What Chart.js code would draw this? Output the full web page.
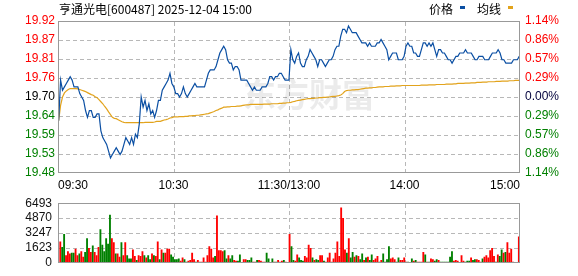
<!DOCTYPE html>
<html>
<head>
<meta charset="utf-8">
<script src="https://cdn.jsdelivr.net/npm/chart.js@4.4.1/dist/chart.umd.min.js"></script>
<style>
  html, body { margin: 0; padding: 0; background: #fff; }
  #wrap { position: relative; width: 578px; height: 276px; overflow: hidden; }
  #priceChart { position: absolute; left: 0; top: 0; }
  #volChart { position: absolute; left: 0; top: 190px; }
</style>
</head>
<body>
<div id="wrap">
  <canvas id="priceChart" width="578" height="190"></canvas>
  <canvas id="volChart" width="578" height="86"></canvas>
</div>
<script>
// ---------- data ----------
const TITLE = "亨通光电[600487] 2025-12-04 15:00";
const WATERMARK = "东方财富";
const PRE_CLOSE = 19.70;
const PCT_RANGE = 1.14;
const TIME_LABELS = ["09:30", "10:30", "11:30/13:00", "14:00", "15:00"];
const SERIES_NAMES = ["价格", "均线"];

// one value per minute, 09:30 .. 11:30 and 13:01 .. 15:00 (241 points)
const PRICES = [
  19.63, 19.75, 19.72, 19.73, 19.74, 19.75, 19.76, 19.75, 19.73, 19.73,
  19.73, 19.71, 19.70, 19.69, 19.66, 19.64, 19.66, 19.66, 19.64, 19.64,
  19.65, 19.65, 19.60, 19.58, 19.57, 19.56, 19.54, 19.52, 19.53, 19.54,
  19.55, 19.54, 19.53, 19.54, 19.56, 19.58, 19.57, 19.56, 19.58, 19.56,
  19.59, 19.58, 19.62, 19.70, 19.67, 19.69, 19.66, 19.68, 19.65, 19.66,
  19.64, 19.66, 19.69, 19.69, 19.72, 19.73, 19.74, 19.75, 19.77, 19.74,
  19.73, 19.71, 19.71, 19.70, 19.71, 19.73, 19.71, 19.70, 19.71, 19.72,
  19.73, 19.74, 19.73, 19.73, 19.73, 19.73, 19.73, 19.75, 19.77, 19.78,
  19.78, 19.78, 19.79, 19.81, 19.83, 19.84, 19.85, 19.84, 19.81, 19.80,
  19.80, 19.78, 19.79, 19.79, 19.78, 19.75, 19.75, 19.75, 19.75, 19.74,
  19.73, 19.72, 19.73, 19.72, 19.72, 19.72, 19.73, 19.73, 19.73, 19.74,
  19.76, 19.76, 19.75, 19.76, 19.76, 19.77, 19.77, 19.76, 19.75, 19.75,
  19.75, 19.84, 19.81, 19.80, 19.82, 19.83, 19.80, 19.79, 19.79, 19.81,
  19.82, 19.84, 19.83, 19.82, 19.81, 19.79, 19.81, 19.81, 19.80, 19.79,
  19.80, 19.81, 19.81, 19.82, 19.84, 19.85, 19.85, 19.88, 19.90, 19.90,
  19.89, 19.91, 19.90, 19.89, 19.89, 19.89, 19.88, 19.87, 19.86, 19.86,
  19.86, 19.85, 19.86, 19.85, 19.85, 19.85, 19.86, 19.86, 19.87, 19.86,
  19.85, 19.84, 19.81, 19.82, 19.83, 19.83, 19.83, 19.81, 19.81, 19.81,
  19.82, 19.85, 19.86, 19.85, 19.85, 19.83, 19.83, 19.82, 19.82, 19.84,
  19.86, 19.86, 19.85, 19.86, 19.85, 19.86, 19.84, 19.82, 19.84, 19.84,
  19.83, 19.83, 19.82, 19.81, 19.81, 19.80, 19.81, 19.82, 19.82, 19.83,
  19.83, 19.83, 19.84, 19.83, 19.83, 19.83, 19.82, 19.81, 19.81, 19.82,
  19.82, 19.82, 19.81, 19.81, 19.81, 19.82, 19.83, 19.83, 19.83, 19.84,
  19.83, 19.81, 19.81, 19.80, 19.80, 19.80, 19.80, 19.81, 19.81, 19.81,
  19.82
];

const AVG_PRICES = [
  19.630, 19.675, 19.700, 19.712, 19.718, 19.722, 19.725, 19.725, 19.725, 19.725,
  19.724, 19.722, 19.720, 19.718, 19.716, 19.713, 19.710, 19.707, 19.705, 19.701,
  19.698, 19.692, 19.686, 19.680, 19.672, 19.665, 19.656, 19.648, 19.640, 19.637,
  19.636, 19.633, 19.630, 19.627, 19.625, 19.624, 19.624, 19.624, 19.624, 19.624,
  19.624, 19.624, 19.624, 19.624, 19.624, 19.625, 19.625, 19.625, 19.625, 19.625,
  19.626, 19.628, 19.628, 19.628, 19.630, 19.632, 19.633, 19.635, 19.638, 19.639,
  19.641, 19.641, 19.641, 19.642, 19.642, 19.642, 19.643, 19.643, 19.644, 19.644,
  19.645, 19.645, 19.646, 19.646, 19.647, 19.648, 19.649, 19.650, 19.651, 19.653,
  19.655, 19.657, 19.660, 19.662, 19.665, 19.667, 19.670, 19.670, 19.671, 19.671,
  19.672, 19.672, 19.672, 19.673, 19.673, 19.674, 19.675, 19.676, 19.677, 19.677,
  19.678, 19.678, 19.678, 19.678, 19.678, 19.678, 19.678, 19.679, 19.679, 19.679,
  19.679, 19.680, 19.680, 19.680, 19.680, 19.681, 19.681, 19.682, 19.682, 19.683,
  19.683, 19.684, 19.686, 19.687, 19.689, 19.690, 19.691, 19.692, 19.693, 19.694,
  19.695, 19.695, 19.696, 19.696, 19.697, 19.697, 19.698, 19.698, 19.699, 19.699,
  19.700, 19.700, 19.701, 19.702, 19.702, 19.703, 19.704, 19.706, 19.710, 19.716,
  19.719, 19.720, 19.720, 19.721, 19.721, 19.722, 19.722, 19.723, 19.724, 19.725,
  19.726, 19.726, 19.727, 19.727, 19.728, 19.728, 19.729, 19.730, 19.730, 19.730,
  19.731, 19.731, 19.731, 19.732, 19.732, 19.732, 19.733, 19.733, 19.733, 19.734,
  19.734, 19.734, 19.734, 19.734, 19.734, 19.734, 19.734, 19.734, 19.734, 19.735,
  19.735, 19.735, 19.735, 19.736, 19.736, 19.736, 19.736, 19.737, 19.737, 19.737,
  19.737, 19.737, 19.738, 19.738, 19.738, 19.738, 19.739, 19.739, 19.740, 19.740,
  19.740, 19.740, 19.741, 19.741, 19.741, 19.742, 19.742, 19.742, 19.743, 19.743,
  19.743, 19.744, 19.744, 19.744, 19.745, 19.745, 19.745, 19.745, 19.746, 19.746,
  19.746, 19.747, 19.747, 19.747, 19.747, 19.748, 19.748, 19.748, 19.749, 19.749,
  19.749
];

const VOLUMES = [
  2290, 1675, 3090, 795, 1235, 970, 1060, 1060, 1500, 795,
  970, 1235, 620, 1150, 2650, 1590, 1150, 1850, 1150, 795,
  1675, 3620, 1940, 1235, 2650, 2030, 5200, 2650, 2200, 970,
  970, 620, 2200, 795, 2200, 795, 440, 440, 1410, 705,
  265, 795, 705, 1235, 795, 530, 795, 350, 970, 795,
  705, 2290, 350, 1410, 1060, 1060, 1500, 1500, 880, 620,
  350, 350, 440, 175, 530, 350, 90, 175, 265, 1060,
  350, 90, 265, 90, 90, 530, 90, 795, 1760, 1500,
  530, 705, 5115, 1320, 1320, 1235, 1320, 440, 795, 440,
  795, 265, 175, 175, 880, 60, 350, 350, 265, 265,
  530, 90, 90, 265, 265, 175, 90, 90, 1060, 440,
  60, 440, 90, 90, 265, 90, 175, 265, 90, 60,
  3090, 1760, 265, 175, 880, 530, 265, 175, 705, 530,
  1940, 1590, 530, 265, 350, 265, 795, 795, 175, 90,
  530, 1060, 90, 440, 1060, 2290, 705, 6000, 4850, 1410,
  1060, 2650, 530, 1150, 620, 795, 705, 350, 970, 265,
  530, 620, 265, 880, 265, 440, 705, 90, 265, 970,
  90, 350, 1760, 440, 530, 350, 90, 530, 265, 265,
  530, 90, 90, 60, 440, 175, 265, 90, 90, 90,
  1150, 880, 90, 90, 440, 350, 175, 350, 265, 90,
  90, 90, 90, 90, 620, 1235, 175, 265, 175, 60,
  795, 175, 90, 175, 175, 530, 265, 350, 350, 265,
  90, 440, 620, 795, 530, 1320, 1590, 705, 90, 880,
  705, 1410, 1060, 1150, 2200, 1060, 1500, 90, 60, 60,
  2820
];

// 1 = traded up (red), 0 = traded down (green)
const VOL_UP = [
  1, 0, 0, 1, 1, 1, 0, 0, 1, 1,
  0, 1, 1, 0, 0, 1, 1, 0, 1, 1,
  1, 0, 0, 0, 0, 0, 0, 1, 1, 0,
  1, 1, 0, 1, 1, 0, 0, 0, 1, 1,
  0, 1, 1, 1, 0, 1, 0, 0, 1, 0,
  1, 1, 0, 1, 0, 1, 1, 1, 0, 0,
  0, 0, 0, 1, 1, 0, 0, 1, 1, 1,
  1, 0, 1, 1, 1, 1, 1, 1, 1, 1,
  1, 0, 1, 1, 1, 1, 0, 0, 1, 0,
  0, 1, 1, 0, 0, 0, 1, 1, 0, 0,
  0, 1, 1, 0, 1, 1, 1, 1, 0, 0,
  1, 0, 1, 0, 1, 1, 1, 0, 1, 1,
  1, 0, 0, 1, 1, 0, 0, 0, 1, 1,
  1, 1, 0, 1, 0, 0, 1, 1, 0, 1,
  1, 1, 1, 1, 1, 1, 1, 1, 1, 1,
  0, 1, 0, 0, 1, 0, 1, 0, 0, 1,
  0, 1, 0, 0, 1, 1, 1, 0, 1, 0,
  0, 0, 0, 1, 1, 1, 0, 0, 1, 1,
  1, 1, 0, 0, 0, 1, 0, 1, 1, 1,
  1, 0, 1, 0, 1, 1, 0, 0, 1, 0,
  0, 0, 0, 0, 0, 0, 1, 1, 1, 1,
  1, 1, 0, 0, 0, 1, 0, 0, 1, 1,
  1, 0, 1, 1, 1, 1, 1, 1, 0, 1,
  0, 0, 1, 0, 1, 1, 1, 1, 1, 1,
  1
];

const VOL_TICKS = [0, 1623, 3247, 4870, 6493];

// ---------- styling ----------
const COLORS = {
  price: "#0b4fa3",
  avg: "#e2a31c",
  up: "#ff0000",
  down: "#008000",
  flat: "#000000",
  grid: "#b8b8b8",
  frame: "#999999"
};
const TICK_FONT = { family: "'Liberation Sans', Arial, sans-serif", size: 12 };
Chart.defaults.font.family = TICK_FONT.family;

const yMin = PRE_CLOSE * (1 - PCT_RANGE / 100);
const yMax = PRE_CLOSE * (1 + PCT_RANGE / 100);

function sideColor(v, flat) {
  const d = v - PRE_CLOSE;
  if (Math.abs(d) < 1e-4) return flat;
  return d > 0 ? COLORS.up : COLORS.down;
}

function quarterTicks(s) {
  s.ticks = [0, 1, 2, 3, 4].map((k) => ({ value: s.min + (s.max - s.min) * k / 4 }));
}

function priceTicks(s) {
  s.ticks = [];
  for (let k = 0; k <= 8; k++) s.ticks.push({ value: yMin + (yMax - yMin) * k / 8 });
}

// ---------- plugins ----------
// dashed grid under the data (plot area split evenly, like the tick layout)
const DASH = 4, GAP = 3;
const dashGrid = {
  id: "dashGrid",
  beforeDatasetsDraw(chart, args, opts) {
    const { ctx, chartArea: a } = chart;
    const L = Math.round(a.left), R = Math.round(a.right);
    const T = Math.round(a.top), B = Math.round(a.bottom);
    const cols = opts.cols || 4;
    const rows = opts.rows || 4;
    ctx.save();
    ctx.fillStyle = COLORS.grid;
    for (let k = 1; k < cols; k++) {
      const px = Math.round(L + (R - L) * k / cols);
      for (let y = T + 1; y < B - 1; y += DASH + GAP) {
        ctx.fillRect(px, y, 1, Math.min(DASH, B - 1 - y));
      }
    }
    for (let k = 1; k < rows; k++) {
      const py = Math.round(T + (B - T) * k / rows);
      for (let x = L + 1; x < R - 1; x += DASH + GAP) {
        ctx.fillRect(x, py, Math.min(DASH, R - 1 - x), 1);
      }
    }
    ctx.restore();
  }
};

// solid frame round the plot area, over the data
const frame = {
  id: "frame",
  afterDatasetsDraw(chart) {
    const { ctx, chartArea: a } = chart;
    const L = Math.round(a.left), R = Math.round(a.right);
    const T = Math.round(a.top), B = Math.round(a.bottom);
    ctx.save();
    ctx.fillStyle = COLORS.frame;
    ctx.fillRect(L, T, R - L, 1);
    ctx.fillRect(L, B - 1, R - L, 1);
    ctx.fillRect(L, T, 1, B - T);
    ctx.fillRect(R - 1, T, 1, B - T);
    ctx.restore();
  }
};

const watermark = {
  id: "watermark",
  beforeDatasetsDraw(chart) {
    const { ctx, chartArea: a } = chart;
    ctx.save();
    ctx.font = "bold 33px 'Noto Sans CJK SC'";
    ctx.fillStyle = "rgba(0,0,0,0.08)";
    ctx.textAlign = "center";
    ctx.textBaseline = "middle";
    ctx.fillText(WATERMARK, (a.left + a.right) / 2 + 20, (a.top + a.bottom) / 2 - 3);
    ctx.restore();
  }
};

const header = {
  id: "header",
  afterDraw(chart) {
    const { ctx, chartArea: a } = chart;
    ctx.save();
    ctx.font = "12px 'Noto Sans CJK SC'";
    ctx.textBaseline = "middle";
    ctx.fillStyle = "#000";
    ctx.textAlign = "left";
    ctx.fillText(TITLE, a.left + 1, 9.5);

    // legend: text first, small colour bar after it, laid out from the right
    const ds = chart.data.datasets;
    let x = a.right - 7;
    for (let k = ds.length - 1; k >= 0; k--) {
      ctx.fillStyle = ds[k].borderColor;
      ctx.fillRect(x - 5, 6, 5, 3);
      x -= 12;
      ctx.fillStyle = "#000";
      ctx.textAlign = "right";
      ctx.fillText(ds[k].label, x, 9.5);
      x -= ctx.measureText(ds[k].label).width + 12;
    }
    ctx.restore();
  }
};

const noGrid = { display: false, drawTicks: false };
const noBorder = { display: false };

// ---------- price chart ----------
new Chart(document.getElementById("priceChart"), {
  type: "line",
  data: {
    datasets: [
      {
        label: SERIES_NAMES[0],
        data: PRICES.map((p, i) => ({ x: i, y: p })),
        borderColor: COLORS.price,
        borderWidth: 1.2,
        pointRadius: 0,
        tension: 0,
        yAxisID: "y"
      },
      {
        label: SERIES_NAMES[1],
        data: AVG_PRICES.map((p, i) => ({ x: i, y: p })),
        borderColor: COLORS.avg,
        borderWidth: 1.2,
        pointRadius: 0,
        tension: 0,
        yAxisID: "y"
      }
    ]
  },
  options: {
    responsive: false,
    animation: false,
    events: [],
    layout: { padding: { top: 21 } },
    plugins: {
      legend: { display: false },
      tooltip: { enabled: false },
      dashGrid: { cols: 4, rows: 8 }
    },
    scales: {
      x: {
        type: "linear",
        min: -0.35,
        max: 240.4,
        bounds: "data",
        offset: false,
        afterBuildTicks: quarterTicks,
        afterFit: (s) => { s.height = 17; },
        ticks: {
          callback: (v, i) => TIME_LABELS[i],
          align: "inner",
          maxRotation: 0,
          autoSkip: false,
          padding: 5,
          color: "#000",
          font: TICK_FONT
        },
        grid: noGrid,
        border: noBorder
      },
      y: {
        position: "left",
        min: yMin,
        max: yMax,
        bounds: "data",
        afterBuildTicks: priceTicks,
        afterFit: (s) => { s.width = 58; },
        ticks: {
          callback: (v) => v.toFixed(2),
          autoSkip: false,
          padding: 3,
          color: (c) => sideColor(c.tick.value, COLORS.flat),
          font: TICK_FONT
        },
        grid: noGrid,
        border: noBorder
      },
      y1: {
        position: "right",
        min: yMin,
        max: yMax,
        bounds: "data",
        afterBuildTicks: priceTicks,
        afterFit: (s) => { s.width = 58; },
        ticks: {
          callback: (v) => (Math.abs(v / PRE_CLOSE - 1) * 100 + 1e-9).toFixed(2) + "%",
          autoSkip: false,
          padding: 5,
          color: (c) => sideColor(c.tick.value, "#00003c"),
          font: TICK_FONT
        },
        grid: noGrid,
        border: noBorder
      }
    }
  },
  plugins: [dashGrid, watermark, frame, header]
});

// ---------- volume chart ----------
new Chart(document.getElementById("volChart"), {
  type: "bar",
  data: {
    datasets: [{
      data: VOLUMES.map((v, i) => ({ x: i, y: v })),
      backgroundColor: VOL_UP.map((u) => (u ? COLORS.up : COLORS.down)),
      barThickness: 1.2,
      borderWidth: 0
    }]
  },
  options: {
    responsive: false,
    animation: false,
    events: [],
    layout: { padding: { top: 6, bottom: 5, right: 58 } },
    plugins: {
      legend: { display: false },
      tooltip: { enabled: false },
      dashGrid: { cols: 4, rows: VOL_TICKS.length - 1 }
    },
    scales: {
      x: {
        type: "linear",
        min: -1.2,
        max: 240.6,
        bounds: "data",
        offset: false,
        afterBuildTicks: quarterTicks,
        afterFit: (s) => { s.height = 0; },
        ticks: { display: false },
        grid: noGrid,
        border: noBorder
      },
      y: {
        min: 0,
        max: VOL_TICKS[VOL_TICKS.length - 1],
        bounds: "data",
        afterBuildTicks: (s) => { s.ticks = VOL_TICKS.map((v) => ({ value: v })); },
        afterFit: (s) => { s.width = 58; },
        ticks: { autoSkip: false, padding: 6, color: "#111", font: TICK_FONT, callback: (v) => String(v) },
        grid: noGrid,
        border: noBorder
      }
    }
  },
  plugins: [dashGrid, frame]
});
</script>
</body>
</html>
